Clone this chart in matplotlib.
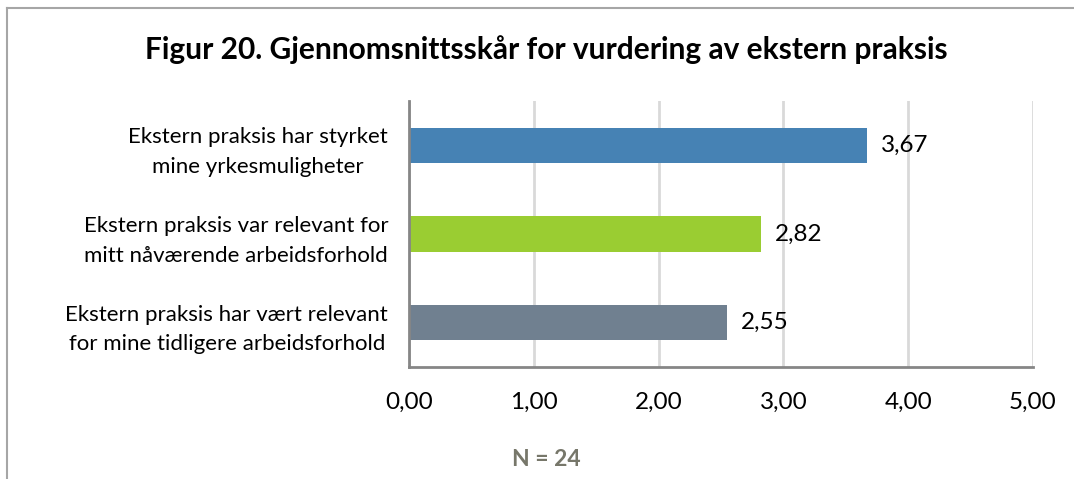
import matplotlib.pyplot as plt
from matplotlib.lines import Line2D

# Data
categories = ['Ekstern praksis har styrket\nmine yrkesmuligheter',
              'Ekstern praksis var relevant for\nmitt nåværende arbeidsforhold',
              'Ekstern praksis har vært relevant\nfor mine tidligere arbeidsforhold']
values = [3.67, 2.82, 2.55]
colors = ['#4682B4', '#9ACD32', '#708090']
xticks = [0, 1, 2, 3, 4, 5]

plt.rcParams['font.family'] = ['Lato', 'DejaVu Sans']

W, H = 1074, 479
fig = plt.figure(figsize=(W/100, H/100), dpi=100)
ax = fig.add_axes([409/W, 1-367/H, (1033-409)/W, (367-101)/H])

ypos = list(range(len(values)))
ax.barh(ypos, values, height=0.4, color=colors, zorder=3)
ax.set_ylim(len(values)-0.5, -0.5)
ax.set_xlim(0, 5)
ax.set_yticks(ypos)
ax.set_yticklabels(categories, fontsize=16, linespacing=1.6, multialignment='center')
ax.set_xticks(xticks)
ax.set_xticklabels([('%.2f' % v).replace('.', ',') for v in xticks], fontsize=17.5)
ax.tick_params(axis='both', length=0)
ax.tick_params(axis='y', pad=15)
ax.tick_params(axis='x', pad=18)
ax.xaxis.grid(True, color='#d9d9d9', linewidth=2, zorder=0)
for s in ['top', 'right']:
    ax.spines[s].set_visible(False)
for s in ['left', 'bottom']:
    ax.spines[s].set_color('#868686')
    ax.spines[s].set_linewidth(2)
    ax.spines[s].set_zorder(4)

for y, v in zip(ypos, values):
    ax.text(v + 0.11, y, ('%.2f' % v).replace('.', ','), va='center', ha='left', fontsize=17.5)

fig.text(546/W, 1-50/H, 'Figur 20. Gjennomsnittsskår for vurdering av ekstern praksis',
         ha='center', va='center', fontsize=21.5, fontweight='bold')
fig.text(546/W, 1-460/H, 'N = 24', ha='center', va='center', fontsize=16.5,
         fontweight='bold', color='#77776a')

# figure border (top and left)
fig.add_artist(Line2D([7/W, 1], [1-8/H, 1-8/H], color='#a6a6a6', linewidth=1.5, transform=fig.transFigure))
fig.add_artist(Line2D([7/W, 7/W], [0, 1-8/H], color='#a6a6a6', linewidth=1.5, transform=fig.transFigure))

fig.savefig('out.png', dpi=100)
